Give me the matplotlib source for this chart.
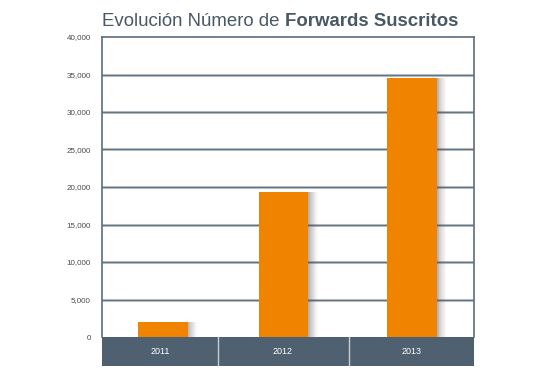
import matplotlib
matplotlib.use("Agg")
import matplotlib.pyplot as plt
import numpy as np

years = ["2011", "2012", "2013"]
forwards = [2000, 19300, 34600]
yticks = [0, 5000, 10000, 15000, 20000, 25000, 30000, 35000, 40000]
ytick_labels = ["0", "5,000", "10,000", "15,000", "20,000", "25,000", "30,000", "35,000", "40,000"]

plt.rcParams['font.family'] = ['Liberation Sans', 'DejaVu Sans']

W, H = 550, 383
fig = plt.figure(figsize=(W / 100, H / 100), dpi=100)
fig.patch.set_facecolor("white")

ax = fig.add_axes([102 / W, (H - 337) / H, 372 / W, 300 / H])
slate = "#4f6070"
orange = "#f08300"

x = np.array([-0.01, 0.965, 2.0])
bw = 0.40
# soft shadow on the right of each bar
n = 12
for i in range(n):
    a = 0.45 * (1 - i / n) ** 1.6
    ax.bar(x + bw / 2 + (i + 0.5) * 0.007, forwards, width=0.007, color="#555555",
           alpha=a, linewidth=0, zorder=2)
ax.bar(x, forwards, width=bw, color=orange, linewidth=0, zorder=3)

ax.set_xlim(-0.5, 2.5)
ax.set_ylim(0, 40000)
ax.set_yticks(yticks)
ax.set_yticklabels(ytick_labels)
ax.set_xticks([])
ax.tick_params(axis="y", length=0, labelsize=5.8, labelcolor="#4a4a4a", pad=8)
for t in yticks[1:-1]:
    ax.axhline(t, color="#c5ccd2", lw=2.2, zorder=1)
    ax.axhline(t, color="#66757f", lw=1.0, zorder=1.5)
for s in ["left", "right", "top"]:
    ax.spines[s].set_color("#5d6d7a")
    ax.spines[s].set_linewidth(1.2)
ax.spines["bottom"].set_visible(False)

# category band
bx = fig.add_axes([102 / W, (H - 366) / H, 372 / W, 29 / H])
bx.set_xlim(-0.5, 2.5)
bx.set_ylim(0, 1)
bx.set_facecolor(slate)
for s in bx.spines.values():
    s.set_visible(False)
bx.set_xticks([])
bx.set_yticks([])
for d in [0.435, 1.49]:
    bx.axvline(d, color="#c8ced4", lw=1.0)
for xi, lab in zip([-0.03, 0.96, 2.0], years):
    bx.text(xi, 0.5, lab, color="white", fontsize=6.5, ha="center", va="center")

# title
tx = 102 / W
t1 = fig.text(tx, 1 - 26.5 / H, "Evolución Número de ", fontsize=13.4, color="#4a5866",
              ha="left", va="baseline")
fig.canvas.draw()
bb = t1.get_window_extent()
fig.text(bb.x1 / W, 1 - 26.5 / H, "Forwards Suscritos", fontsize=13.4, color="#4a5866",
         fontweight="bold", ha="left", va="baseline")

fig.savefig("out.png", dpi=100, facecolor="white")
